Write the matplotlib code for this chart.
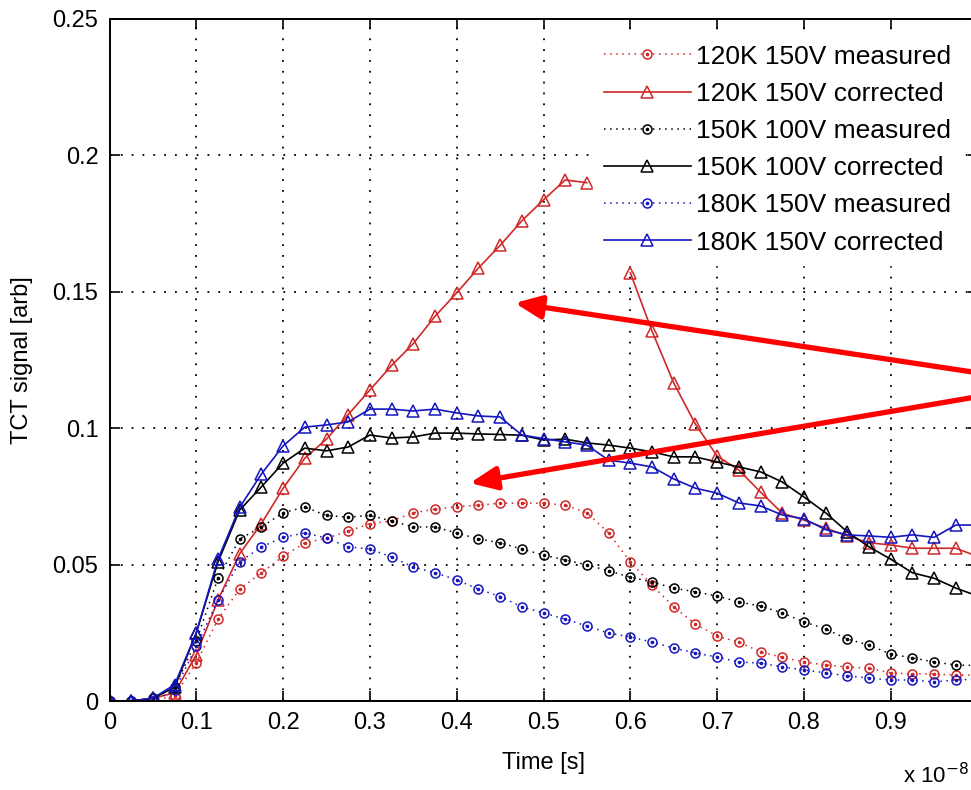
import numpy as np
import matplotlib
matplotlib.use("Agg")
import matplotlib.pyplot as plt

plt.rcParams['font.family'] = ['Liberation Sans', 'DejaVu Sans']

# time axis (units of 1e-8 s)
time = [0.0, 0.025, 0.05, 0.075, 0.1, 0.125, 0.15, 0.175, 0.2, 0.225,
        0.25, 0.275, 0.3, 0.325, 0.35, 0.375, 0.4, 0.425, 0.45, 0.475,
        0.5, 0.525, 0.55, 0.575, 0.6, 0.625, 0.65, 0.675, 0.7, 0.725,
        0.75, 0.775, 0.8, 0.825, 0.85, 0.875, 0.9, 0.925, 0.95, 0.975, 1.0]

red_meas = [0.0, 0.0, 0.0, 0.002, 0.014, 0.030, 0.041, 0.047, 0.053, 0.058,
            0.0597, 0.0623, 0.065, 0.066, 0.069, 0.0703, 0.0712, 0.0718, 0.0725, 0.0725,
            0.0725, 0.0718, 0.069, 0.0616, 0.051, 0.0425, 0.0345, 0.0282, 0.0238, 0.0216,
            0.018, 0.016, 0.0143, 0.0132, 0.0125, 0.012, 0.0103, 0.0099, 0.0099, 0.0095, 0.0095]

red_corr = [0.0, 0.0, 0.001, 0.003, 0.017, 0.037, 0.054, 0.065, 0.078, 0.089,
            0.096, 0.105, 0.114, 0.123, 0.131, 0.141, 0.1496, 0.1587, 0.167, 0.176,
            0.1837, 0.191, 0.190, np.nan, 0.157, 0.1356, 0.1166, 0.1015, 0.0898, 0.0847,
            0.0766, 0.0689, 0.0663, 0.0634, 0.0605, 0.058, 0.0572, 0.056, 0.056, 0.056, 0.053]

blk_meas = [0.0, 0.0, 0.001, 0.005, 0.022, 0.045, 0.0594, 0.0638, 0.069, 0.0711,
            0.068, 0.0674, 0.068, 0.066, 0.0638, 0.0638, 0.0616, 0.0594, 0.058, 0.0557,
            0.0535, 0.0517, 0.0499, 0.0477, 0.0454, 0.0436, 0.0414, 0.040, 0.0385, 0.0363,
            0.0348, 0.0323, 0.029, 0.0264, 0.0227, 0.0205, 0.0172, 0.0158, 0.0143, 0.0132, 0.013]

blk_corr = [0.0, 0.0, 0.001, 0.005, 0.025, 0.051, 0.070, 0.0785, 0.0872, 0.0927,
            0.0917, 0.0931, 0.0975, 0.0964, 0.0968, 0.0982, 0.0982, 0.0979, 0.0977, 0.0974,
            0.0957, 0.096, 0.0946, 0.0938, 0.0927, 0.0913, 0.0895, 0.0895, 0.0876, 0.0858,
            0.084, 0.0803, 0.0748, 0.069, 0.062, 0.0565, 0.052, 0.047, 0.045, 0.0414, 0.0385]

blu_meas = [0.0, 0.0, 0.0, 0.004, 0.020, 0.037, 0.051, 0.0565, 0.060, 0.0616,
            0.0597, 0.0565, 0.0557, 0.0528, 0.0491, 0.047, 0.0444, 0.041, 0.0383, 0.0345,
            0.0323, 0.030, 0.0275, 0.0249, 0.0235, 0.0216, 0.0194, 0.0176, 0.0161, 0.0143,
            0.0139, 0.0125, 0.0114, 0.0103, 0.0092, 0.0084, 0.0077, 0.0077, 0.007, 0.0077, 0.008]

blu_corr = [0.0, 0.0, 0.001, 0.006, 0.025, 0.052, 0.071, 0.0832, 0.0935, 0.1004,
            0.1012, 0.1023, 0.107, 0.107, 0.1063, 0.107, 0.1056, 0.1045, 0.1041, 0.0975,
            0.0962, 0.095, 0.0938, 0.0883, 0.0872, 0.0858, 0.0814, 0.078, 0.0762, 0.0726,
            0.0715, 0.0682, 0.0668, 0.0628, 0.0609, 0.0605, 0.060, 0.0609, 0.060, 0.0645, 0.0645]

labels = ["120K 150V measured", "120K 150V corrected",
          "150K 100V measured", "150K 100V corrected",
          "180K 150V measured", "180K 150V corrected"]

xticks = [0, 0.1, 0.2, 0.3, 0.4, 0.5, 0.6, 0.7, 0.8, 0.9]
xticklabels = ["0", "0.1", "0.2", "0.3", "0.4", "0.5", "0.6", "0.7", "0.8", "0.9"]
yticks = [0, 0.05, 0.1, 0.15, 0.2, 0.25]
yticklabels = ["0", "0.05", "0.1", "0.15", "0.2", "0.25"]

RED = '#d02828'
BLUE = '#1515c0'
BLACK = '#000000'

W, H = 971, 790
fig = plt.figure(figsize=(W / 100, H / 100), dpi=100)
ax_l, ax_r, ax_t, ax_b = 109.5, 977.5, 19, 701
ax = fig.add_axes([ax_l / W, (H - ax_b) / H, (ax_r - ax_l) / W, (ax_b - ax_t) / H])

t = np.array(time)
handles = []
for meas, corr, col in [(red_meas, red_corr, RED), (blk_meas, blk_corr, BLACK), (blu_meas, blu_corr, BLUE)]:
    lm, = ax.plot(t, meas, color=col, linestyle=(0, (1, 3)), lw=1.1, marker='o',
                  markersize=6.5, markerfacecolor='none', markeredgecolor=col, markeredgewidth=1.1)
    dm, = ax.plot(t, meas, linestyle='none', marker='o', markersize=1.6, color=col)
    lc, = ax.plot(t, corr, color=col, linestyle='-', lw=1.2, marker='^',
                  markersize=8, markerfacecolor='none', markeredgecolor=col, markeredgewidth=1.1)
    handles.append((lm, dm))
    handles.append(lc)

ax.set_xlim(0, 1.0)
ax.set_ylim(0, 0.25)
ax.set_xticks(xticks)
ax.set_xticklabels(xticklabels)
ax.set_yticks(yticks)
ax.set_yticklabels(yticklabels)
ax.tick_params(direction='in', length=7, width=1.2, labelsize=17, top=True, right=True,
               pad=8, colors='black')
for s in ax.spines.values():
    s.set_linewidth(1.4)
ax.grid(True, color='black', linestyle=(0, (1, 5)), linewidth=1.3)

ax.set_xlabel("Time [s]", fontsize=17, labelpad=13)
ax.set_ylabel("TCT signal [arb]", fontsize=17, labelpad=14)

leg = ax.legend(handles, labels, loc='upper left', bbox_to_anchor=(0.557, 0.978),
                borderaxespad=0, fontsize=19, handlelength=3.3, handletextpad=0.2,
                labelspacing=0.5, frameon=True, fancybox=False, borderpad=0.4)
leg.get_frame().set_facecolor('white')
leg.get_frame().set_edgecolor('white')
leg.get_frame().set_alpha(1)

fig.text(903 / W, 1 - 783 / H, r"x 10$^{-8}$", fontsize=16, ha='left', va='baseline')

# red annotation arrows
src = (1.086, 0.1162)
for tip in [(0.467, 0.1459), (0.4153, 0.0799)]:
    ax.annotate("", xy=tip, xytext=src, xycoords='data', textcoords='data',
                annotation_clip=False,
                arrowprops=dict(arrowstyle='-|>,head_length=0.8,head_width=0.35',
                                mutation_scale=20, lw=3.8, color='#ff0000',
                                shrinkA=0, shrinkB=0))

fig.savefig("out.png", dpi=100)
